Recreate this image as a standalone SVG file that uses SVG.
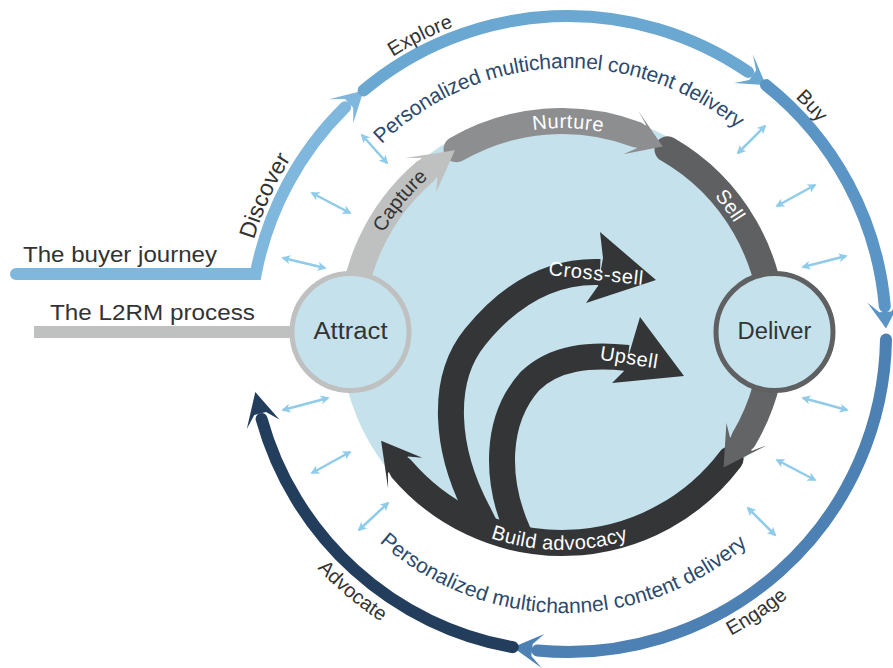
<svg xmlns="http://www.w3.org/2000/svg" width="893" height="668" viewBox="0 0 893 668">
<defs>
<style>
text{font-family:"Liberation Sans",Arial,Helvetica,sans-serif}
.lbl{font-size:20px;fill:#333}
.big{font-size:22px;fill:#333}
.node{font-size:23px;fill:#333}
.disc{font-size:23px;fill:#333}
.wt{font-size:20px;fill:#fff}
.dk{font-size:20px;fill:#333}
.pmc{font-size:21px;fill:#2b4a6d}
.band{fill:none;stroke-width:26;stroke-linecap:round}
.ring{fill:none;stroke-width:12;stroke-linecap:round;stroke-linejoin:miter}
.dbl{fill:none;stroke:#90cbea;stroke-width:2.5;marker-start:url(#dh);marker-end:url(#dh)}
</style>
<marker id="dh" viewBox="0 0 10 10" refX="8" refY="5" markerWidth="3.6" markerHeight="3.6" orient="auto-start-reverse"><path d="M0 0L10 5L0 10L2.5 5z" fill="#90cbea"/></marker>
<path id="outerTop" d="M240 334 A328 328 0 0 1 896 334 A328 328 0 0 1 240 334"/>
<path id="outerBot" d="M225 334 A343 343 0 0 0 911 334"/>
<path id="pmcTop" d="M302 334 A266 266 0 0 1 834 334 A266 266 0 0 1 302 334"/>
<path id="pmcBot" d="M286 334 A276 276 0 0 0 844 334"/>
<path id="procTop" d="M358 332 A204 204 0 0 1 766 332 A204 204 0 0 1 358 332"/>
<path id="procBot" d="M344 332 A218 218 0 0 0 780 332"/>
</defs>
<rect width="893" height="668" fill="#fff"/>

<g id="connectors">
 <g id="buyer-journey">
  <g id="discover"><path class="ring" stroke="#7fb7dd" d="M16 274 L255.7 274 A318 318 0 0 1 345.1 107.2"/><polygon fill="#7fb7dd" points="345,99 329,99.2 363.6,90.4 353.3,123 353.2,107.7"/></g>
  <g id="explore"><path class="ring" stroke="#6aa7d1" d="M363.6 90.4 A318 318 0 0 1 748.1 71.9"/><polygon fill="#6aa7d1" points="756.1,70.2 752.9,54.6 766,85.1 734.1,83 749.2,80"/></g>
  <g id="buy"><path class="ring" stroke="#5a95c5" d="M766 85.1 A318 318 0 0 1 884.8 306.3"/><polygon fill="#5a95c5" points="891.2,311.4 901.2,299 886,328.5 867.3,302.5 879.3,312.2"/></g>
  <g id="engage"><path class="ring" stroke="#4d80b3" d="M886 339.5 A318 318 0 0 1 537.5 650.5"/><polygon fill="#4d80b3" points="531.3,655.9 541.7,668 512.8,647.2 544.4,634.1 532.7,644"/></g>
  <g id="advocate"><path class="ring" stroke="#233e5d" d="M512.8 647.2 A318 318 0 0 1 261.6 419"/><polygon fill="#233e5d" points="254.3,415.1 246.8,429.1 255.3,391.9 279.4,419.5 266,412.1"/></g>
 </g>
 <g id="exchange-arrows">
  <line class="dbl" x1="362" y1="135" x2="387" y2="163"/>
  <line class="dbl" x1="312" y1="193" x2="350" y2="213"/>
  <line class="dbl" x1="283" y1="258" x2="325" y2="268"/>
  <line class="dbl" x1="738" y1="153" x2="765" y2="126"/>
  <line class="dbl" x1="777" y1="206" x2="815" y2="185"/>
  <line class="dbl" x1="803" y1="267" x2="846" y2="256"/>
  <line class="dbl" x1="803" y1="398" x2="847" y2="410"/>
  <line class="dbl" x1="777" y1="460" x2="815" y2="480"/>
  <line class="dbl" x1="748" y1="508" x2="775" y2="535"/>
  <line class="dbl" x1="283" y1="410" x2="328" y2="398"/>
  <line class="dbl" x1="312" y1="473" x2="350" y2="452"/>
  <line class="dbl" x1="359" y1="530" x2="388" y2="503"/>
 </g>
</g>

<circle id="process-disk" cx="562" cy="332" r="222" fill="#c5e2ec"/>

<g id="process-ring">
 <g id="build-advocacy"><path class="band" stroke="#333537" d="M730.5 459 A211 211 0 0 1 401.6 469"/><polygon fill="#333537" points="387.9,473 388.1,488.6 381.1,440.7 422.3,457.8 408.1,456.6"/></g>
 <g id="cross-sell"><path fill="none" stroke="#333537" stroke-width="26" d="M486 528 L478 512 C445 450 440 380 475 337 C505 300 545 270 600 272"/><polygon fill="#333537" points="603,258 600,232 656,280 586,303 598,286"/></g>
 <g id="upsell"><path fill="none" stroke="#333537" stroke-width="26" d="M522 542 L518 532 C495 480 495 420 530 381 C555 357 590 354 628 358"/><polygon fill="#333537" points="632,344 640,317 684,376 612,383 624,371"/></g>
 <g id="deliver-down"><path class="band" stroke="#636466" d="M773 332 A211 211 0 0 1 743.8 439.1"/><polygon fill="#636466" points="752,450.7 766.7,445.4 723.6,467.6 726.4,423.1 729.9,436.9"/></g>
 <g id="sell"><path class="band" stroke="#5f6062" d="M667.5 149.3 A211 211 0 0 1 773 332"/></g>
 <g id="nurture"><path class="band" stroke="#8d8e90" d="M456.5 149.3 A211 211 0 0 1 635.9 134.4"/><polygon fill="#8d8e90" points="645.9,124.3 638.2,110.8 662.7,146.6 623.2,154.2 636.2,148.4"/></g>
 <g id="capture"><path class="band" stroke="#bfc0c0" d="M351 332 A211 211 0 0 1 425 171.6"/><polygon fill="#bfc0c0" points="421,157.9 405.4,158.1 454.9,150.2 436.2,192.3 437.4,178.1"/></g>
 <line id="l2rm-line" x1="34" y1="332" x2="292" y2="332" stroke="#bfc0c0" stroke-width="12"/>
</g>

<g id="attract"><circle cx="350.5" cy="332" r="58.5" fill="#c5e2ec" stroke="#bfc0c0" stroke-width="5"/><text class="node" x="350.5" y="338.5" text-anchor="middle" textLength="74" lengthAdjust="spacingAndGlyphs">Attract</text></g>
<g id="deliver"><circle cx="774.5" cy="332" r="58.5" fill="#c5e2ec" stroke="#5f6062" stroke-width="5"/><text class="node" x="774.5" y="338.5" text-anchor="middle" textLength="74" lengthAdjust="spacingAndGlyphs">Deliver</text></g>

<g id="labels">
 <text class="big" x="23" y="262" textLength="194" lengthAdjust="spacingAndGlyphs">The buyer journey</text>
 <text class="big" x="50" y="320" textLength="205" lengthAdjust="spacingAndGlyphs">The L2RM process</text>
 <text class="disc"><textPath href="#outerTop" startOffset="140.3" text-anchor="middle">Discover</textPath></text>
 <text class="lbl"><textPath href="#outerTop" startOffset="364.1" text-anchor="middle">Explore</textPath></text>
 <text class="lbl"><textPath href="#outerTop" startOffset="783" text-anchor="middle">Buy</textPath></text>
 <text class="lbl"><textPath href="#outerBot" startOffset="742.9" text-anchor="middle">Engage</textPath></text>
 <text class="lbl"><textPath href="#outerBot" startOffset="299.3" text-anchor="middle">Advocate</textPath></text>
 <text class="pmc"><textPath href="#pmcTop" startOffset="406" text-anchor="middle" textLength="390" lengthAdjust="spacing">Personalized multichannel content delivery</textPath></text>
 <text class="pmc"><textPath href="#pmcBot" startOffset="436" text-anchor="middle" textLength="402" lengthAdjust="spacing">Personalized multichannel content delivery</textPath></text>
 <text class="dk"><textPath href="#procTop" startOffset="138.9" text-anchor="middle">Capture</textPath></text>
 <text class="wt"><textPath href="#procTop" startOffset="326.1" text-anchor="middle" textLength="70" lengthAdjust="spacing">Nurture</textPath></text>
 <text class="wt"><textPath href="#procTop" startOffset="509.1" text-anchor="middle">Sell</textPath></text>
 <text class="wt"><textPath href="#procBot" startOffset="339.4" text-anchor="middle" textLength="140" lengthAdjust="spacing">Build advocacy</textPath></text>
 <text class="wt" x="596" y="280" text-anchor="middle" transform="rotate(6 596 273)" textLength="95" lengthAdjust="spacing">Cross-sell</text>
 <text class="wt" x="629" y="364" text-anchor="middle" transform="rotate(9 629 357)" textLength="58" lengthAdjust="spacing">Upsell</text>
</g>
</svg>
